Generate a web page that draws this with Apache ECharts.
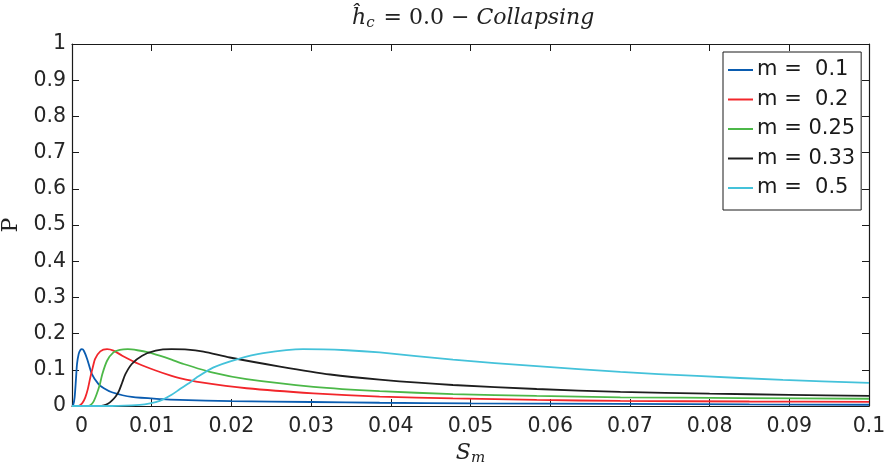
<!DOCTYPE html>
<html>
<head>
<meta charset="utf-8">
<script src="https://cdn.jsdelivr.net/npm/echarts@6/dist/echarts.min.js"></script>
<style>
  html, body { margin: 0; padding: 0; background: #fff; }
  #chart { width: 890px; height: 466px; }
</style>
</head>
<body>
<div id="chart"></div>
<script>
// Probability curves P(S_m) for several values of m, collapsing case.
const seriesNames = ['m =  0.1', 'm =  0.2', 'm = 0.25', 'm = 0.33', 'm =  0.5'];
const seriesColors = ['#0a5cb0', '#f2262b', '#4cb848', '#1e1e1e', '#44c2da'];

const curveM010 = [[0,0],[0.00015,0.003],[0.00033,0.024],[0.0005,0.075],[0.00063,0.116],[0.00084,0.144],
  [0.00105,0.155],[0.00125,0.157],[0.0015,0.152],[0.0019,0.13],[0.0025,0.088],[0.0033,0.061],[0.004,0.049],
  [0.005,0.038],[0.0075,0.025],[0.0113,0.019],[0.0135,0.017],[0.02,0.0135],[0.03,0.011],[0.0386,0.009],
  [0.05,0.0075],[0.0688,0.0058],[0.085,0.0045],[0.1,0.0035]];

const curveM020 = [[0,0],[0.0007,0],[0.001,0.002],[0.0013,0.008],[0.00167,0.024],[0.002,0.048],[0.0023,0.079],
  [0.0026,0.106],[0.0029,0.13],[0.00355,0.151],[0.0044,0.157],[0.0052,0.153],[0.0063,0.139],[0.0084,0.116],
  [0.0105,0.098],[0.0125,0.083],[0.0135,0.077],[0.016,0.066],[0.0219,0.049],[0.0303,0.035],[0.0386,0.026],
  [0.0478,0.021],[0.0583,0.0168],[0.0688,0.014],[0.085,0.0125],[0.1,0.0115]];

const curveM025 = [[0,0],[0.0018,0],[0.0023,0.002],[0.0027,0.012],[0.0031,0.033],[0.0035,0.06],[0.0038,0.088],
  [0.0044,0.125],[0.0052,0.148],[0.006,0.155],[0.007,0.157],[0.0082,0.154],[0.0096,0.148],[0.011,0.139],
  [0.0125,0.128],[0.014,0.116],[0.0177,0.092],[0.0219,0.074],[0.0303,0.053],[0.0386,0.041],[0.0478,0.033],
  [0.0583,0.0277],[0.0688,0.024],[0.084,0.022],[0.1,0.02]];

const curveM033 = [[0,0],[0.0035,0],[0.004,0.002],[0.0045,0.006],[0.005,0.015],[0.0055,0.027],[0.0059,0.042],
  [0.0063,0.065],[0.0067,0.088],[0.0075,0.116],[0.0088,0.139],[0.0105,0.153],[0.0125,0.157],[0.0145,0.156],
  [0.0165,0.15],[0.0198,0.134],[0.0261,0.109],[0.0324,0.087],[0.0386,0.073],[0.0478,0.058],[0.0583,0.047],
  [0.0688,0.039],[0.08,0.034],[0.09,0.031],[0.1,0.028]];

const curveM050 = [[0,0],[0.005,0],[0.0085,0.003],[0.0098,0.007],[0.011,0.014],[0.0125,0.031],[0.0135,0.046],
  [0.0148,0.065],[0.0156,0.078],[0.0177,0.106],[0.0207,0.129],[0.024,0.146],[0.029,0.157],[0.0345,0.154],
  [0.0386,0.148],[0.0478,0.128],[0.0583,0.11],[0.0688,0.094],[0.0784,0.083],[0.0892,0.072],[0.1,0.064]];

const curves = [curveM010, curveM020, curveM025, curveM033, curveM050];

const xTicks = { min: 0, max: 0.1, step: 0.01 };
const yTicks = { min: 0, max: 1, step: 0.1 };

const sansFont = 'DejaVu Sans, Liberation Sans, sans-serif';
const serifFont = 'DejaVu Serif, Liberation Serif, serif';
const tickFont = { fontFamily: sansFont, fontSize: 20.5, color: '#262626' };
const axisBlack = { lineStyle: { color: '#1a1a1a', width: 1.2 } };
const inTicks = { show: true, inside: true, length: 7, lineStyle: { color: '#1a1a1a', width: 1 } };

const chart = echarts.init(document.getElementById('chart'), null, { renderer: 'canvas' });

chart.setOption({
  animation: false,
  backgroundColor: '#fff',
  title: {
    text: '{h|ĥ}{s|c}{n| = 0.0 − }{i|Collapsing}',
    left: 347, top: 1,
    textStyle: {
      fontWeight: 'normal',
      rich: {
        h: { fontFamily: serifFont, fontStyle: 'italic', fontWeight: 'normal', fontSize: 22, color: '#222' },
        s: { fontFamily: serifFont, fontStyle: 'italic', fontWeight: 'normal', fontSize: 15, color: '#222', padding: [10, 2, 0, 0] },
        n: { fontFamily: serifFont, fontWeight: 'normal', fontSize: 22, color: '#222' },
        i: { fontFamily: serifFont, fontStyle: 'italic', fontWeight: 'normal', fontSize: 22, color: '#222' }
      }
    }
  },
  grid: { left: 72, right: 21, top: 44, bottom: 60, containLabel: false, outerBoundsMode: 'none' },
  legend: {
    orient: 'vertical',
    left: 723, top: 52,
    data: seriesNames,
    icon: 'rect',
    itemWidth: 25, itemHeight: 2, itemGap: 5.5,
    padding: [6, 6, 10, 5],
    borderColor: '#1a1a1a', borderWidth: 1, borderRadius: 0,
    backgroundColor: '#fff',
    textStyle: { fontFamily: sansFont, fontSize: 21, color: '#1a1a1a', lineHeight: 24, padding: [0, 0, 0, -1] }
  },
  xAxis: [
    {
      type: 'value', position: 'bottom',
      min: xTicks.min, max: xTicks.max, interval: xTicks.step,
      name: '{i|S}{s|m}', nameLocation: 'middle', nameGap: 27,
      nameTextStyle: {
        rich: {
          i: { fontFamily: serifFont, fontStyle: 'italic', fontSize: 22, color: '#222' },
          s: { fontFamily: serifFont, fontStyle: 'italic', fontSize: 15, color: '#222', padding: [10, 0, 0, 0] }
        }
      },
      axisLine: { show: true, onZero: false, ...axisBlack },
      axisTick: inTicks,
      splitLine: { show: false },
      axisLabel: {
        ...tickFont, margin: 10,
        formatter: v => (Math.abs(v) < 1e-9 ? '{z|0}' : String(+v.toFixed(2))),
        rich: { z: { ...tickFont, padding: [0, 0, 0, 19] } }
      }
    },
    {
      type: 'value', position: 'top',
      min: xTicks.min, max: xTicks.max, interval: xTicks.step,
      axisLine: { show: true, onZero: false, ...axisBlack },
      axisTick: inTicks, axisLabel: { show: false }, splitLine: { show: false }
    }
  ],
  yAxis: [
    {
      type: 'value', position: 'left',
      min: yTicks.min, max: yTicks.max, interval: yTicks.step,
      name: 'P', nameLocation: 'middle', nameGap: 42, nameRotate: 90,
      nameTextStyle: { fontFamily: serifFont, fontSize: 22, color: '#222' },
      axisLine: { show: true, onZero: false, ...axisBlack },
      axisTick: inTicks,
      splitLine: { show: false },
      axisLabel: { ...tickFont, margin: 6, formatter: v => String(+v.toFixed(1)) }
    },
    {
      type: 'value', position: 'right',
      min: yTicks.min, max: yTicks.max, interval: yTicks.step,
      axisLine: { show: true, onZero: false, ...axisBlack },
      axisTick: inTicks, axisLabel: { show: false }, splitLine: { show: false }
    }
  ],
  series: curves.map((pts, i) => ({
    name: seriesNames[i],
    type: 'line',
    xAxisIndex: 0, yAxisIndex: 0,
    data: pts,
    smooth: 0.25,
    symbol: 'none',
    clip: true,
    color: seriesColors[i],
    lineStyle: { color: seriesColors[i], width: 1.8 }
  }))
});
</script>
</body>
</html>
